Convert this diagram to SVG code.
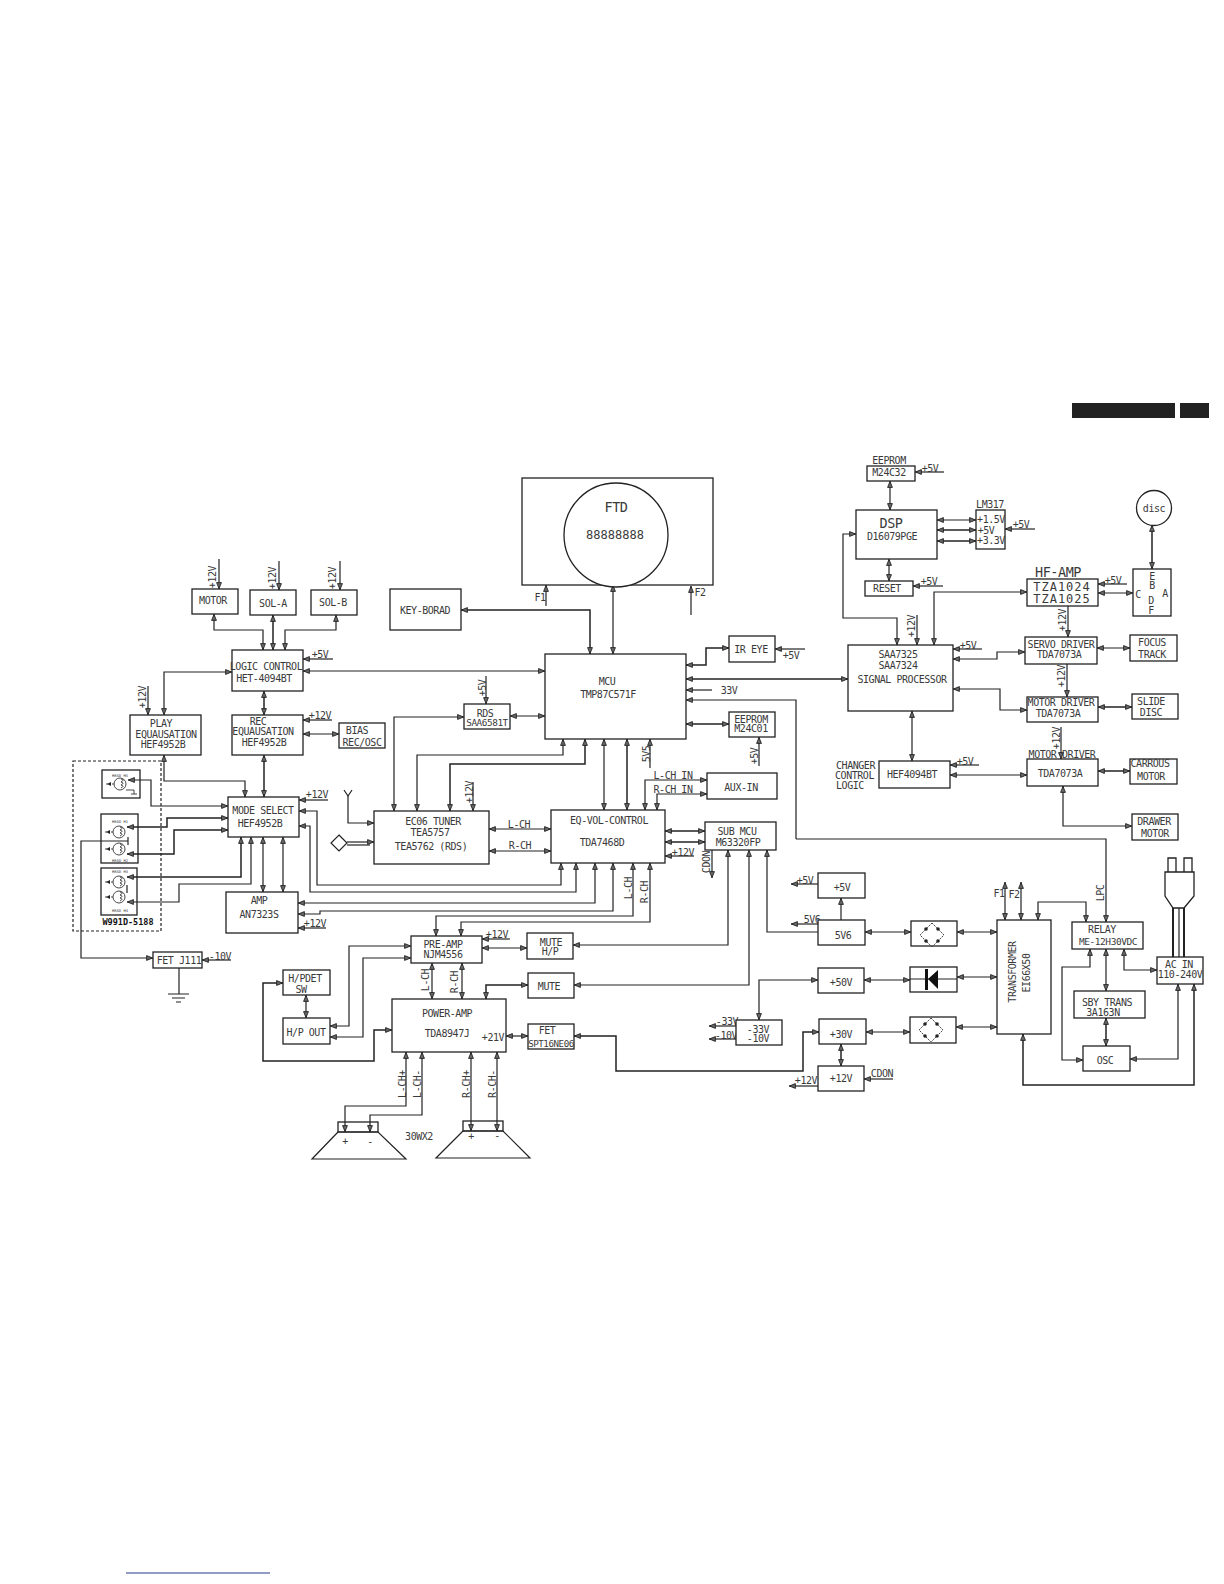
<svg xmlns="http://www.w3.org/2000/svg" width="1224" height="1584" viewBox="0 0 1224 1584">
<style>
text{font-family:"DejaVu Sans Mono","Liberation Mono",monospace;font-size:10px;letter-spacing:-.45px;fill:#3a3a3a;text-anchor:middle;dominant-baseline:central}
rect,circle.o,.sh{fill:#fff;stroke:#222;stroke-width:1.3}
#connectors path{fill:none;stroke:#222;stroke-width:1.2}
.e{marker-end:url(#a)}
.b{marker-start:url(#a);marker-end:url(#a)}
#connectors path.t{stroke-width:1.5}
.big{font-size:13.5px}
.tz{font-size:12px;letter-spacing:1px}
.sm{font-size:3.8px;letter-spacing:0}
.g{fill:none;stroke:#333;stroke-width:.9}
.w{font-weight:bold;font-size:8.5px;letter-spacing:0;fill:#111}
</style>
<defs>
<marker id="a" viewBox="0 0 7 6" refX="7" refY="3" markerWidth="7" markerHeight="6" markerUnits="userSpaceOnUse" orient="auto-start-reverse"><path d="M.6 .6L6.6 3L.6 5.4Z" fill="#666" stroke="#222" stroke-width=".9"/></marker>
<g id="head"><circle r="6" class="g"/><path class="g" d="M1 -5Q5 -4 1 -2Q5 -1 1 1Q5 2 1 4"/><path class="g" d="M-6 0H-14" stroke-dasharray="2 1"/><path d="M-13 -2L-9 0L-13 2Z" transform="rotate(180 -11 0)" fill="#222"/></g>
<g id="bridge"><path class="g" d="M0 -12L12 0L0 12L-12 0Z" stroke-dasharray="2 1"/><circle cx="-6" cy="-6" r="1.8" fill="#222"/><circle cx="6" cy="-6" r="1.8" fill="#222"/><circle cx="-6" cy="6" r="1.8" fill="#222"/><circle cx="6" cy="6" r="1.8" fill="#222"/></g>
</defs>

<g id="header"><rect x="1072" y="403" width="103" height="15" style="fill:#222;stroke:none"/><rect x="1180" y="403" width="29" height="15" style="fill:#222;stroke:none"/></g>
<path id="footer-line" d="M126 1573H270" stroke="#223a8a" stroke-width="1" fill="none"/>

<g id="connectors">
<path class="e" d="M219 559V589"/><path class="e" d="M279 561V590"/><path class="e" d="M340 561V590"/>
<path class="b" d="M214 614V630H263V650"/><path class="b t" d="M273 615V650"/><path class="b" d="M336 615V630H285V650"/>
<path class="e" d="M333 659H303"/><path class="b" d="M303 671H545"/>
<path class="b" d="M232 672H164V715"/><path class="e" d="M148 686V715"/>
<path class="b t" d="M264 691V715"/><path class="e" d="M332 720H303"/><path class="b" d="M303 734H339"/>
<path class="b" d="M164 755V781H245V797"/><path class="b t" d="M264 755V797"/><path class="e" d="M328 800H299"/>
<path class="b" d="M128 780H151V806H228"/><path class="b t" d="M127 827H167V818H228"/><path class="b t" d="M127 854H174V830H228"/>
<path class="b t" d="M127 877H241V837"/><path class="b" d="M127 902H179V884H251V837"/>
<path class="b" d="M263 837V892"/><path class="b" d="M283 837V892"/>
<path class="b" d="M299 811H317V885H561V863"/><path class="b" d="M299 826H310V892H576V863"/>
<path class="b" d="M298 903H595V863"/><path class="b" d="M298 914H320V911H613V863"/><path class="e" d="M326 928H298"/>
<path class="b" d="M436 936V916H633V863"/><path class="b" d="M461 936V922H650V863"/>
<path class="b" d="M489 829H551"/><path class="b" d="M489 851H551"/>
<path class="e" d="M348 796V823H374"/><path class="e" d="M473 782V811"/>
<path d="M344 790L348 796L352 790"/><path class="e" d="M347 842H374"/><path d="M347 845H370"/>
<path class="b" d="M510 716H545"/><path class="e" d="M486 676V704"/><path class="b" d="M464 717H394V811"/>
<path class="b" d="M417 811V755H563V739"/><path class="b t" d="M450 811V764H585V739"/>
<path class="b" d="M604 739V810"/><path class="b t" d="M627 739V810"/><path class="e" d="M650 768V739"/>
<path class="b t" d="M461 610H590V654"/><path class="b" d="M613 654V585"/>
<path class="e" d="M546 606V585"/><path class="e" d="M691 615V586"/>
<path class="b t" d="M686 665H706V648H729"/><path class="e" d="M805 649H775"/>
<path class="b t" d="M686 679H848"/><path class="e" d="M712 690H686"/>
<path class="e" d="M796 839V700H686"/><path d="M796 839H1106V922" class="e"/>
<path class="b t" d="M686 724H729"/><path class="e" d="M759 766V737"/>
<path class="b" d="M707 780H645V810"/><path class="b" d="M707 794H657V810"/>
<path class="b t" d="M665 831H705"/><path class="b t" d="M665 842H705"/><path class="e" d="M694 856H665"/>
<path class="e" d="M712 850V878"/>
<path class="b" d="M573 945H728V850"/><path class="b" d="M574 985H749V850"/><path class="e" d="M818 932H767V850"/>
<path class="e" d="M818 884H791"/><path class="e" d="M841 920V898"/><path class="e" d="M818 924H791"/>
<path class="b" d="M865 932H911"/><path class="b" d="M957 932H997"/>
<path class="b" d="M864 980H910"/><path class="b" d="M957 977H997"/>
<path class="b" d="M818 980H759V1020"/><path class="e" d="M736 1026H709"/><path class="e" d="M736 1039H709"/>
<path class="b" d="M866 1032H910"/><path class="b" d="M956 1027H997"/>
<path class="b t" d="M819 1032H803V1071H616V1036H574"/>
<path class="b t" d="M841 1044V1066"/><path class="e" d="M818 1086H789"/><path class="e" d="M893 1079H864"/>
<path class="b" d="M1005 882V920"/><path class="b" d="M1021 882V920"/>
<path class="b" d="M1038 920V902H1086V922"/>
<path class="b" d="M1124 949V970H1157"/><path class="b" d="M1106 949V991"/>
<path class="b" d="M1090 949V967H1062V1060H1083"/><path class="b t" d="M1106 1018V1046"/>
<path class="b" d="M1130 1059H1178V984"/><path class="b t" d="M1023 1034V1085H1194V984"/>
<path d="M1173 908V957" style="stroke-width:2"/><path d="M1179 908V957"/><path d="M1184 908V957" style="stroke-width:2"/>
<path class="e" d="M944 472H915"/><path class="b" d="M890 481V510"/>
<path class="b" d="M937 520H976"/><path class="b t" d="M937 530H976"/><path class="b t" d="M937 541H976"/>
<path class="e" d="M1035 529H1005"/><path class="b" d="M889 559V581"/><path class="e" d="M943 586H913"/>
<path class="b" d="M856 534H843V618H897V645"/><path class="e" d="M917 615V645"/>
<path class="b" d="M934 645V592H1027"/><path class="e" d="M1127 584H1098"/><path class="b" d="M1098 593H1133"/>
<path class="b t" d="M1152 525V569"/><path class="e" d="M1068 606V637"/><path class="b" d="M1097 648H1130"/>
<path class="e" d="M982 649H953"/><path class="b" d="M953 659H997V652H1025"/>
<path class="e" d="M1067 664V697"/><path class="b" d="M953 689H1000V710H1027"/><path class="b t" d="M1098 707H1132"/>
<path class="b" d="M912 711V761"/><path class="e" d="M979 765H950"/><path class="b" d="M950 775H1027"/>
<path class="e" d="M1061 727V759"/><path class="b t" d="M1098 771H1130"/><path class="b" d="M1063 786V826H1132"/>
<path class="e" d="M510 939H482"/><path class="b" d="M482 948H527"/>
<path class="b t" d="M528 985H486V999"/><path class="b" d="M506 1036H528"/>
<path class="b" d="M432 963V999"/><path class="b" d="M462 963V999"/><path class="b" d="M306 995V1018"/>
<path class="b" d="M411 946H349V1026H330"/><path class="b" d="M411 958H363V1037H330"/>
<path class="b t" d="M392 1030H374V1061H263V983H283"/>
<path class="b" d="M406 1052V1106H345V1132"/><path class="b" d="M422 1052V1115H370V1132"/>
<path class="b" d="M471 1052V1131"/><path class="b" d="M497 1052V1131"/>
<path class="e" d="M128 841H81V958H153"/><path d="M128 837V845"/><path d="M127 885V893"/>
<path class="e" d="M231 960H202"/><path d="M179 968V994"/><path d="M168 994H189M172 998H185M176 1002H181"/>
</g>

<g id="connector-labels">
<text x="212" y="577" transform="rotate(-90 212 577)">+12V</text><text x="272" y="578" transform="rotate(-90 272 578)">+12V</text><text x="332" y="578" transform="rotate(-90 332 578)">+12V</text>
<text x="320" y="654">+5V</text><text x="142" y="697" transform="rotate(-90 142 697)">+12V</text><text x="320" y="715">+12V</text><text x="317" y="794">+12V</text>
<text x="315" y="923">+12V</text><text x="628" y="888" transform="rotate(-90 628 888)">L-CH</text><text x="644" y="892" transform="rotate(-90 644 892)">R-CH</text>
<text x="519" y="824">L-CH</text><text x="520" y="845">R-CH</text><text x="469" y="792" transform="rotate(-90 469 792)">+12V</text>
<text x="482" y="688" transform="rotate(-90 482 688)">+5V</text><text x="646" y="754" transform="rotate(-90 646 754)">5V5</text>
<text x="540" y="597">F1</text><text x="700" y="592">F2</text>
<text x="791" y="655">+5V</text><text x="729" y="690">33V</text>
<text x="754" y="756" transform="rotate(-90 754 756)">+5V</text><text x="673" y="775">L-CH IN</text><text x="673" y="789">R-CH IN</text>
<text x="683" y="852">+12V</text><text x="706" y="862" transform="rotate(-90 706 862)">CDON</text>
<text x="805" y="880">+5V</text><text x="812" y="919">5V6</text><text x="727" y="1021">-33V</text><text x="726" y="1035">-10V</text>
<text x="806" y="1080">+12V</text><text x="882" y="1073">CDON</text>
<text x="999" y="893">F1</text><text x="1014" y="894">F2</text><text x="1100" y="893" transform="rotate(-90 1100 893)">LPC</text>
<text x="930" y="468">+5V</text><text x="1021" y="524">+5V</text><text x="929" y="581">+5V</text><text x="911" y="626" transform="rotate(-90 911 626)">+12V</text>
<text x="1113" y="580">+5V</text><text x="1062" y="620" transform="rotate(-90 1062 620)">+12V</text><text x="968" y="645">+5V</text><text x="1061" y="676" transform="rotate(-90 1061 676)">+12V</text>
<text x="965" y="761">+5V</text><text x="1056" y="738" transform="rotate(-90 1056 738)">+12V</text>
<text x="497" y="934">+12V</text><text x="425" y="980" transform="rotate(-90 425 980)">L-CH</text><text x="454" y="982" transform="rotate(-90 454 982)">R-CH</text>
<text x="402" y="1084" transform="rotate(-90 402 1084)">L-CH+</text><text x="417" y="1084" transform="rotate(-90 417 1084)">L-CH-</text>
<text x="466" y="1084" transform="rotate(-90 466 1084)">R-CH+</text><text x="492" y="1084" transform="rotate(-90 492 1084)">R-CH-</text>
<text x="220" y="956">-10V</text>
</g>

<g id="motor"><rect x="192" y="589" width="46" height="25"/><text x="213" y="600">MOTOR</text></g>
<g id="sol-a"><rect x="250" y="590" width="46" height="25"/><text x="273" y="603">SOL-A</text></g>
<g id="sol-b"><rect x="311" y="590" width="46" height="25"/><text x="333" y="602">SOL-B</text></g>
<g id="logic-control"><rect x="232" y="650" width="71" height="41"/><text x="266" y="666">LOGIC CONTROL</text><text x="264" y="678">HET-4094BT</text></g>
<g id="play-eq"><rect x="130" y="715" width="71" height="40"/><text x="161" y="723">PLAY</text><text x="166" y="734">EQUAUSATION</text><text x="163" y="744">HEF4952B</text></g>
<g id="rec-eq"><rect x="232" y="715" width="71" height="40"/><text x="258" y="721">REC</text><text x="263" y="731">EQUAUSATION</text><text x="264" y="742">HEF4952B</text></g>
<g id="bias"><rect x="339" y="723" width="46" height="25"/><text x="357" y="730">BIAS</text><text x="362" y="742">REC/OSC</text></g>
<g id="mode-select"><rect x="228" y="797" width="71" height="40"/><text x="263" y="810">MODE SELECT</text><text x="260" y="823">HEF4952B</text></g>
<g id="amp"><rect x="226" y="892" width="72" height="41"/><text x="259" y="900">AMP</text><text x="259" y="914">AN7323S</text></g>
<g id="heads">
<path d="M73 761H161V931H73Z" fill="none" stroke="#222" stroke-width="1.2" stroke-dasharray="3 2"/>
<rect x="102" y="770" width="38" height="28" style="fill:none"/><use href="#head" x="120" y="784"/><text class="sm" x="120" y="775">HEAD H5</text><path class="g" d="M126 790L134 790V794M131 794H137"/>
<rect x="101" y="814" width="37" height="49" style="fill:none"/><use href="#head" x="119" y="832"/><use href="#head" x="119" y="849"/><text class="sm" x="120" y="821">HEAD H1</text><text class="sm" x="120" y="860">HEAD H2</text>
<rect x="101" y="868" width="36" height="47" style="fill:none"/><use href="#head" x="119" y="882"/><use href="#head" x="119" y="897"/><text class="sm" x="120" y="871">HEAD H3</text><text class="sm" x="120" y="910">HEAD H4</text>
<text class="w" x="128" y="922">W991D-5188</text>
</g>
<g id="fet-j111"><rect x="153" y="952" width="49" height="16"/><text x="179" y="960">FET J111</text></g>
<g id="ftd"><rect x="522" y="478" width="191" height="107"/><circle class="o" cx="616" cy="535" r="52"/><text class="big" x="616" y="507">FTD</text><text x="615" y="535" style="font-size:12px;letter-spacing:0">88888888</text></g>
<g id="key-board"><rect x="390" y="589" width="71" height="41"/><text x="425" y="610">KEY-BORAD</text></g>
<g id="mcu"><rect x="545" y="654" width="141" height="85"/><text x="607" y="681">MCU</text><text x="608" y="694">TMP87C571F</text></g>
<g id="rds"><rect x="464" y="704" width="46" height="25"/><text x="485" y="713">RDS</text><text x="487" y="722" style="font-size:9.4px">SAA6581T</text></g>
<g id="tuner"><rect x="374" y="811" width="115" height="53"/><text x="433" y="821">EC06 TUNER</text><text x="430" y="832">TEA5757</text><text x="431" y="846">TEA5762 (RDS)</text></g>
<g id="antenna-input"><path d="M339 835L347 843L339 851L331 843Z" fill="#fff" stroke="#222" stroke-width="1.2"/></g>
<g id="eq-vol"><rect x="551" y="810" width="114" height="53"/><text x="609" y="820">EQ-VOL-CONTROL</text><text x="602" y="842">TDA7468D</text></g>
<g id="ir-eye"><rect x="729" y="636" width="46" height="26"/><text x="751" y="649">IR EYE</text></g>
<g id="eeprom-mcu"><rect x="729" y="712" width="46" height="25"/><text x="751" y="719">EEPROM</text><text x="751" y="728">M24C01</text></g>
<g id="aux-in"><rect x="707" y="773" width="70" height="26"/><text x="741" y="787">AUX-IN</text></g>
<g id="sub-mcu"><rect x="705" y="822" width="71" height="28"/><text x="737" y="831">SUB MCU</text><text x="738" y="842">M63320FP</text></g>
<g id="v5"><rect x="818" y="873" width="47" height="25"/><text x="842" y="887">+5V</text></g>
<g id="v5v6"><rect x="818" y="920" width="47" height="25"/><text x="843" y="935">5V6</text></g>
<g id="bridge-1"><rect x="911" y="921" width="46" height="25"/><use href="#bridge" x="932" y="935"/></g>
<g id="v50"><rect x="818" y="968" width="46" height="25"/><text x="841" y="982">+50V</text></g>
<g id="diode"><rect x="910" y="967" width="47" height="25"/><path d="M910 979H957" fill="none" stroke="#222"/><path d="M925 969H928V990H925Z" fill="#111"/><path d="M928 979L938 970V989Z" fill="#111"/></g>
<g id="vneg"><rect x="736" y="1020" width="46" height="25"/><text x="758" y="1029">-33V</text><text x="758" y="1038">-10V</text></g>
<g id="v30"><rect x="819" y="1019" width="47" height="25"/><text x="841" y="1034">+30V</text></g>
<g id="bridge-3"><rect x="910" y="1017" width="46" height="26"/><use href="#bridge" x="931" y="1030"/></g>
<g id="v12"><rect x="818" y="1066" width="46" height="25"/><text x="841" y="1078">+12V</text></g>
<g id="transformer"><rect x="997" y="920" width="54" height="114"/><text x="1012" y="972" transform="rotate(-90 1012 972)">TRANSFORMER</text><text x="1026" y="973" transform="rotate(-90 1026 973)">EI66X50</text></g>
<g id="relay"><rect x="1072" y="922" width="71" height="27"/><text x="1102" y="929">RELAY</text><text x="1108" y="941" style="font-size:9.5px">ME-12H30VDC</text></g>
<g id="ac-in"><rect x="1157" y="957" width="46" height="27"/><text x="1179" y="964">AC IN</text><text x="1180" y="974">110-240V</text></g>
<g id="plug"><path class="sh" d="M1168 872V858H1176V872M1184 872V858H1192V872"/><path class="sh" d="M1165 872H1194V896L1184 908H1173L1165 896Z"/></g>
<g id="sby-trans"><rect x="1074" y="991" width="71" height="27"/><text x="1107" y="1002">SBY TRANS</text><text x="1103" y="1012">3A163N</text></g>
<g id="osc"><rect x="1083" y="1046" width="47" height="25"/><text x="1105" y="1060">OSC</text></g>
<g id="eeprom-dsp"><text x="889" y="460">EEPROM</text><rect x="867" y="466" width="48" height="15"/><text x="889" y="472">M24C32</text></g>
<g id="dsp"><rect x="856" y="510" width="81" height="49"/><text class="big" x="891" y="523">DSP</text><text x="892" y="536">D16079PGE</text></g>
<g id="lm317"><text x="990" y="504">LM317</text><rect x="976" y="510" width="29" height="39"/><text x="991" y="519">+1.5V</text><text x="986" y="530">+5V</text><text x="991" y="540">+3.3V</text></g>
<g id="reset"><rect x="865" y="581" width="48" height="15"/><text x="887" y="588">RESET</text></g>
<g id="hf-amp"><text class="big" x="1058" y="572">HF-AMP</text><rect x="1027" y="579" width="71" height="27"/><text class="tz" x="1062" y="587">TZA1024</text><text class="tz" x="1062" y="599">TZA1025</text></g>
<g id="pickup"><rect x="1133" y="569" width="38" height="47"/><text x="1152" y="576">E</text><text x="1152" y="585">B</text><text x="1138" y="594">C</text><text x="1165" y="593">A</text><text x="1151" y="600">D</text><text x="1151" y="610">F</text></g>
<g id="disc"><circle class="o" cx="1154" cy="508" r="17.5"/><text x="1154" y="508">disc</text></g>
<g id="signal-processor"><rect x="848" y="645" width="105" height="66"/><text x="898" y="654">SAA7325</text><text x="898" y="665">SAA7324</text><text x="902" y="679">SIGNAL PROCESSOR</text></g>
<g id="servo-driver"><rect x="1025" y="637" width="72" height="27"/><text x="1061" y="644">SERVO DRIVER</text><text x="1059" y="654">TDA7073A</text></g>
<g id="focus-track"><rect x="1130" y="635" width="47" height="26"/><text x="1152" y="642">FOCUS</text><text x="1152" y="654">TRACK</text></g>
<g id="motor-driver"><rect x="1027" y="697" width="71" height="25"/><text x="1061" y="702">MOTOR DRIVER</text><text x="1058" y="713">TDA7073A</text></g>
<g id="slide-disc"><rect x="1132" y="694" width="46" height="25"/><text x="1151" y="701">SLIDE</text><text x="1151" y="712">DISC</text></g>
<g id="changer"><text x="836" y="765" style="text-anchor:start">CHANGER</text><text x="835" y="775" style="text-anchor:start">CONTROL</text><text x="836" y="785" style="text-anchor:start">LOGIC</text><rect x="879" y="761" width="71" height="27"/><text x="912" y="774">HEF4094BT</text></g>
<g id="motor-driver-2"><text x="1062" y="754">MOTOR DRIVER</text><rect x="1027" y="759" width="71" height="27"/><text x="1060" y="773">TDA7073A</text></g>
<g id="carrous"><rect x="1130" y="759" width="47" height="25"/><text x="1150" y="763">CARROUS</text><text x="1151" y="776">MOTOR</text></g>
<g id="drawer"><rect x="1132" y="814" width="46" height="26"/><text x="1154" y="821">DRAWER</text><text x="1155" y="833">MOTOR</text></g>
<g id="pre-amp"><rect x="411" y="936" width="71" height="27"/><text x="443" y="944">PRE-AMP</text><text x="443" y="954">NJM4556</text></g>
<g id="mute-hp"><rect x="527" y="933" width="46" height="26"/><text x="551" y="942">MUTE</text><text x="550" y="951">H/P</text></g>
<g id="mute"><rect x="528" y="973" width="46" height="25"/><text x="549" y="986">MUTE</text></g>
<g id="power-amp"><rect x="392" y="999" width="114" height="53"/><text x="447" y="1013">POWER-AMP</text><text x="447" y="1033">TDA8947J</text><text x="493" y="1037">+21V</text></g>
<g id="fet"><rect x="528" y="1024" width="46" height="25"/><text x="547" y="1030">FET</text><text x="551" y="1043" style="font-size:9.2px">SPT16NE06</text></g>
<g id="hp-det"><rect x="283" y="970" width="47" height="25"/><text x="305" y="978">H/PDET</text><text x="301" y="989">SW</text></g>
<g id="hp-out"><rect x="283" y="1018" width="47" height="26"/><text x="306" y="1032">H/P OUT</text></g>
<g id="speaker-l"><rect x="338" y="1122" width="40" height="10" style="fill:none"/><path class="g" d="M338 1132L312 1159H406L378 1132Z" style="stroke-width:1.2;stroke:#222"/><text x="345" y="1141">+</text><text x="370" y="1141">-</text></g>
<g id="speaker-r"><rect x="463" y="1121" width="40" height="10" style="fill:none"/><path class="g" d="M463 1131L436 1158H530L503 1131Z" style="stroke-width:1.2;stroke:#222"/><text x="471" y="1136">+</text><text x="497" y="1135">-</text></g>
<text x="419" y="1136">30WX2</text>
</svg>
